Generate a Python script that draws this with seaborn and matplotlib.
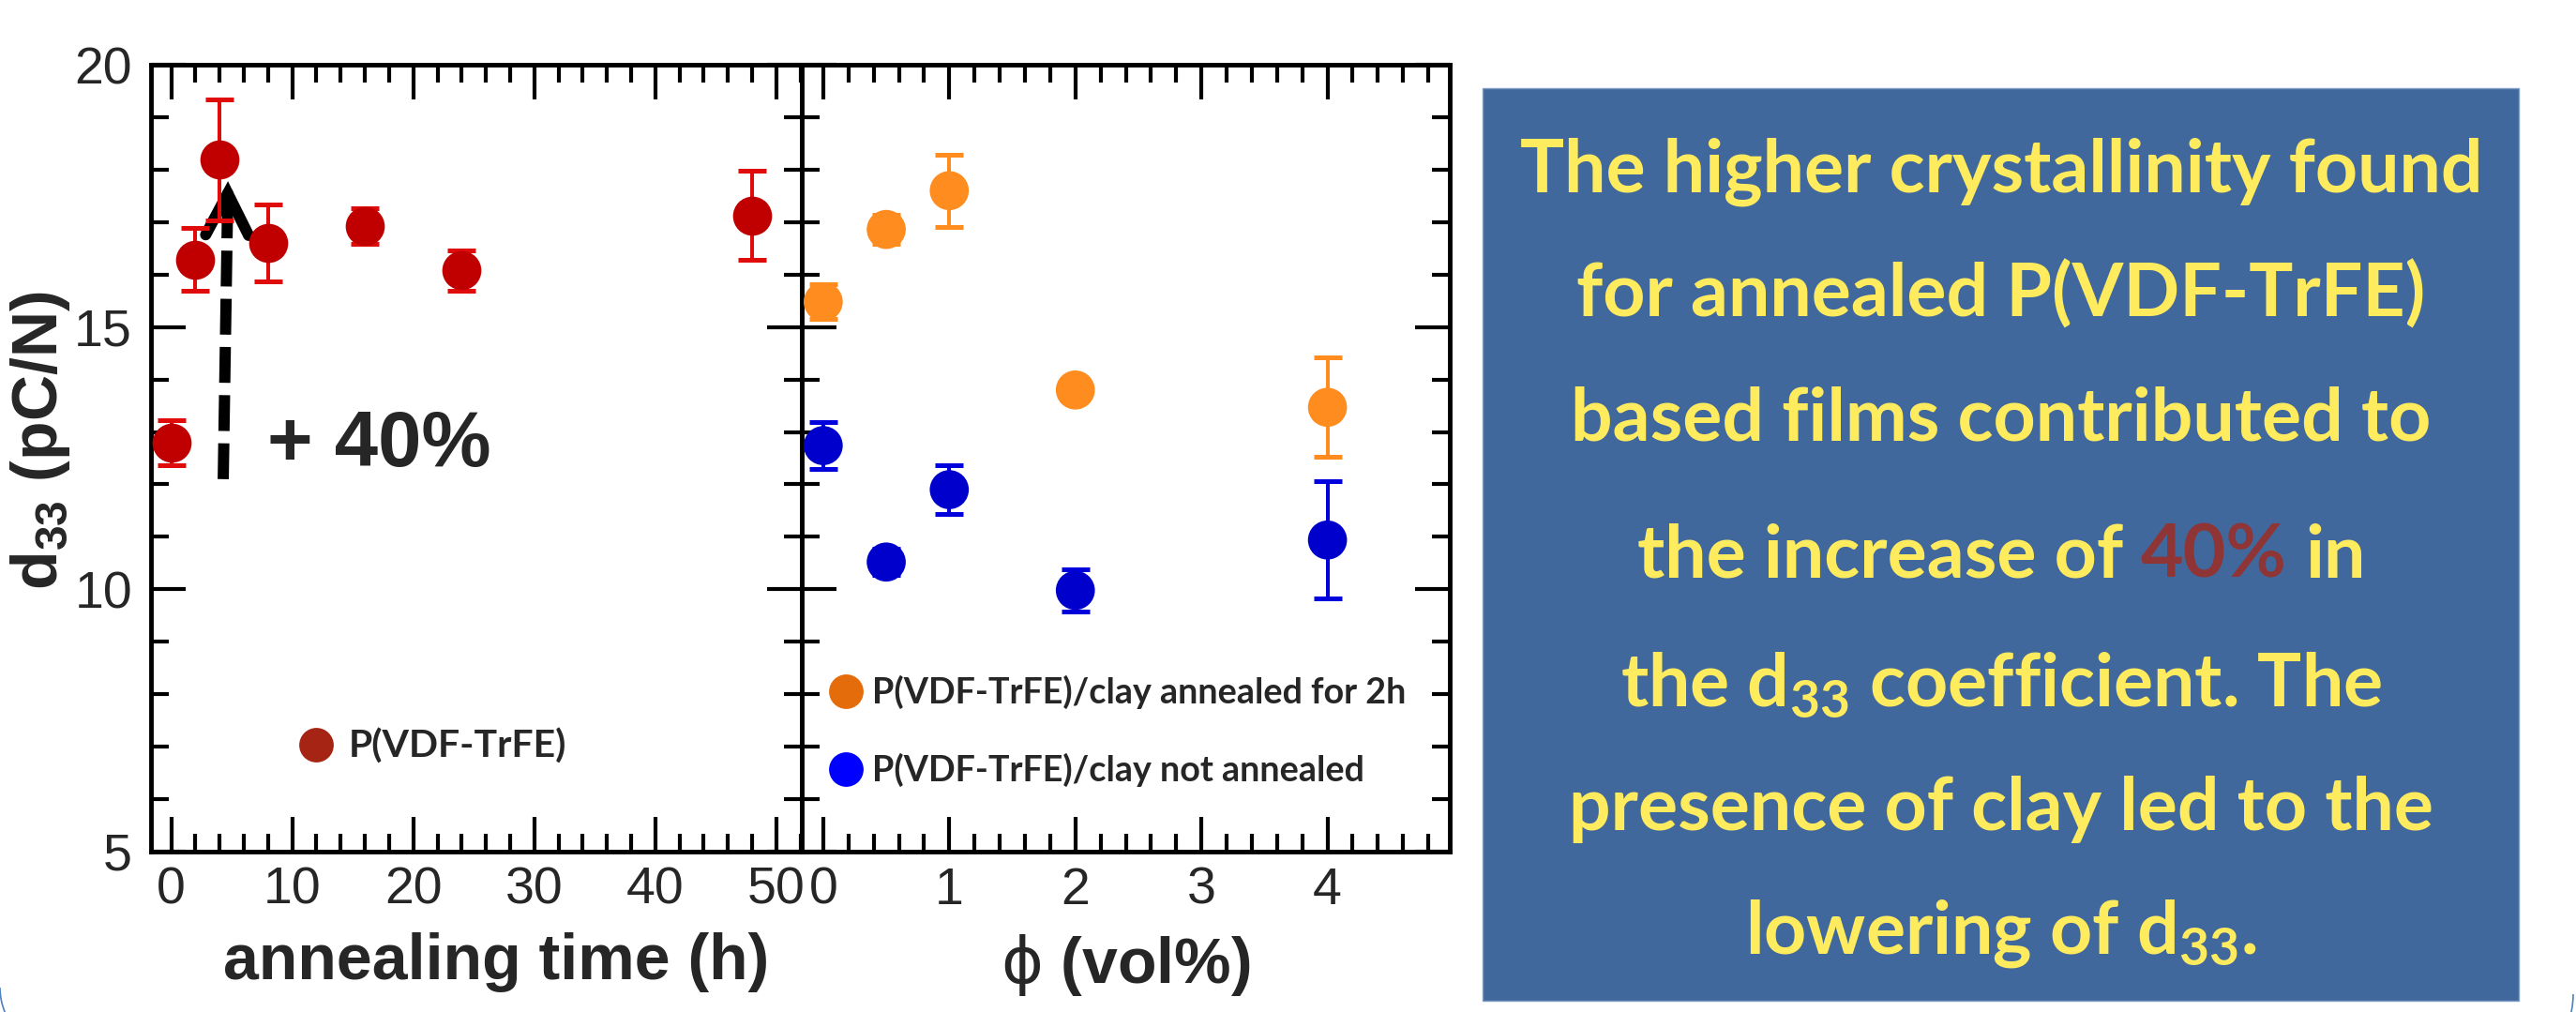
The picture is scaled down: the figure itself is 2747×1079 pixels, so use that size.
import matplotlib
matplotlib.use("Agg")
import pandas as pd
import seaborn as sns
from matplotlib import pyplot as plt
from matplotlib.lines import Line2D
from matplotlib.patches import Rectangle, Arc
from matplotlib.ticker import MultipleLocator
from matplotlib.transforms import IdentityTransform

# values
anneal_time = [0, 2, 4, 8, 16, 24, 48]
anneal_d33 = [12.80, 16.29, 18.19, 16.60, 16.92, 16.08, 17.13]
anneal_err = [0.43, 0.60, 1.15, 0.73, 0.34, 0.38, 0.85]

clay_phi = [0, 0.5, 1, 2, 4]
annealed_d33 = [15.48, 16.86, 17.60, 13.80, 13.47]
annealed_err = [0.33, 0.28, 0.69, 0.10, 0.95]
not_annealed_d33 = [12.74, 10.52, 11.90, 9.98, 10.94]
not_annealed_err = [0.44, 0.25, 0.47, 0.40, 1.12]

series_names = ["P(VDF-TrFE)", "P(VDF-TrFE)/clay annealed for 2h", "P(VDF-TrFE)/clay not annealed"]
point_colors = {series_names[0]: "#C00000", series_names[1]: "#FF8C1E", series_names[2]: "#0000CC"}
bar_colors = {series_names[0]: "#E00C0C", series_names[1]: "#FF8C1E", series_names[2]: "#0000DD"}
legend_colors = {series_names[0]: "#A62414", series_names[1]: "#E46C0A", series_names[2]: "#0000FF"}

box_lines = [
    "The higher crystallinity found",
    "for annealed P(VDF-TrFE)",
    "based films contributed to",
    [("the increase of", "#FFEB5E"), ("40%", "#8F3535"), ("in", "#FFEB5E")],
    r"the d$_{\mathregular{33}}$ coefficient. The",
    "presence of clay led to the",
    r"lowering of d$_{\mathregular{33}}$.",
]

df_anneal = pd.DataFrame({"time": anneal_time, "d33": anneal_d33, "err": anneal_err,
                          "series": series_names[0]})
df_clay = pd.concat([
    pd.DataFrame({"phi": clay_phi, "d33": annealed_d33, "err": annealed_err, "series": series_names[1]}),
    pd.DataFrame({"phi": clay_phi, "d33": not_annealed_d33, "err": not_annealed_err, "series": series_names[2]}),
], ignore_index=True)

sns.set_style("white")
plt.rcParams["font.family"] = ["Liberation Sans", "DejaVu Sans"]
plt.rcParams["axes.edgecolor"] = "black"

W, H = 2747, 1079
fig = plt.figure(figsize=(W / 100, H / 100), dpi=100)
ax1 = fig.add_axes([161 / W, 1 - 908 / H, 694 / W, 839 / H])
ax2 = fig.add_axes([855 / W, 1 - 908 / H, 691 / W, 839 / H])

eb = dict(fmt="none", elinewidth=2.9, capsize=10.5, capthick=3.6, zorder=2)
ax1.errorbar(df_anneal["time"], df_anneal["d33"], yerr=df_anneal["err"], ecolor=bar_colors[series_names[0]], **eb)
for name, grp in df_clay.groupby("series"):
    ax2.errorbar(grp["phi"], grp["d33"], yerr=grp["err"], ecolor=bar_colors[name], **eb)

sns.scatterplot(data=df_anneal, x="time", y="d33", ax=ax1, color=point_colors[series_names[0]],
                s=900, linewidth=0, zorder=3, legend=False)
sns.scatterplot(data=df_clay, x="phi", y="d33", hue="series", palette=point_colors, ax=ax2,
                s=900, linewidth=0, zorder=3, legend=False)

# dashed arrow and label
ax1.plot([4.3, 4.64], [12.1, 17.06], color="black", lw=8.6, dashes=(3.2, 1.1),
         solid_capstyle="butt", dash_capstyle="butt", zorder=1.5)
ax1.annotate("", xy=(4.69, 17.78), xytext=(4.64, 17.0),
             arrowprops=dict(arrowstyle="->,head_length=32,head_width=16.5", mutation_scale=1,
                             lw=8.6, color="black", shrinkA=0, shrinkB=0, capstyle="round",
                             joinstyle="miter"), zorder=1.5)
ax1.text(7.9, 12.35, "+ 40%", fontsize=60, fontweight="bold", ha="left", va="baseline")

ax1.set_xlim(-1.67, 52.1)
ax2.set_xlim(-0.17, 4.97)
for ax in (ax1, ax2):
    ax.set_ylim(5, 20)
    ax.yaxis.set_major_locator(MultipleLocator(5))
    ax.yaxis.set_minor_locator(MultipleLocator(1))
    ax.tick_params(which="both", direction="in", top=True, bottom=True, left=True, right=True,
                   width=3, color="black")
    ax.tick_params(which="major", length=26.6, labelsize=40)
    ax.tick_params(which="minor", length=13.7)
    ax.tick_params(axis="x", pad=11.5)
    ax.tick_params(axis="y", pad=14.4)
    for sp in ax.spines.values():
        sp.set_linewidth(3.5)
        sp.set_color("black")
    ax.set_facecolor("white")
ax1.xaxis.set_major_locator(MultipleLocator(10))
ax1.xaxis.set_minor_locator(MultipleLocator(2))
ax2.xaxis.set_major_locator(MultipleLocator(1))
ax2.xaxis.set_minor_locator(MultipleLocator(0.2))
ax2.tick_params(labelleft=False)
ax2.set_ylabel("")

ax1.set_xlabel("annealing time (h)", fontsize=49, fontweight="bold", labelpad=13)
ax1.xaxis.label.set_x(0.531)
ax2.set_xlabel(r"$\mathrm{\phi}$ (vol%)", fontsize=49, fontweight="bold", labelpad=13)
ax1.set_ylabel(r"d$_{\mathregular{33}}$ (pC/N)", fontsize=49, fontweight="bold")
ax1.yaxis.set_label_coords(-0.121, 0.522)


def handle(name):
    return Line2D([], [], ls="none", marker="o", markersize=26.5, markeredgewidth=0,
                  markerfacecolor=legend_colors[name])


ax1.legend([handle(series_names[0])], [series_names[0]], loc="center left",
           bbox_to_anchor=(0.2236, 0.1335), frameon=False, handlelength=1.0, handletextpad=0.35,
           borderpad=0, borderaxespad=0, prop=dict(family="Lato", weight="bold", size=29.5))
ax2.legend([handle(n) for n in series_names[1:]], series_names[1:], loc="center left",
           bbox_to_anchor=(0.040, 0.153), frameon=False, handlelength=1.0, handletextpad=0.25,
           labelspacing=1.25, borderpad=0, borderaxespad=0,
           prop=dict(family="Lato", weight="bold", size=27.2))

# text box on the right
fig.add_artist(Rectangle((1581 / W, 1 - 1067 / H), (2686 - 1581) / W, (1067 - 94) / H,
                         transform=fig.transFigure, facecolor="#41689C", edgecolor="#7F9CC4", lw=1))
# lower corners of the slide's rounded frame (pixel coordinates)
fig.add_artist(Arc((68, 26), 136, 136, theta1=180, theta2=270, transform=IdentityTransform(),
                   edgecolor="#4F81BD", lw=1.2))
fig.add_artist(Arc((2654, 19), 180, 180, theta1=270, theta2=360, transform=IdentityTransform(),
                   edgecolor="#4F81BD", lw=1.2))

renderer = fig.canvas.get_renderer()
box_font = dict(family="Lato", weight="bold")
probe = fig.text(0, 0, box_lines[0], fontsize=56, **box_font)
box_size = 56 * 1027 / probe.get_window_extent(renderer).width
probe.remove()

baselines = [205, 337.5, 470, 616, 753.5, 885, 1017]
cx = 2134
for line, base in zip(box_lines, baselines):
    y = 1 - base / H
    if isinstance(line, str):
        fig.text(cx / W, y, line, color="#FFEB5E", fontsize=box_size, ha="center", va="baseline", **box_font)
        continue
    a = fig.text(0, 0, "x x", fontsize=box_size, **box_font)
    b = fig.text(0, 0, "xx", fontsize=box_size, **box_font)
    space = a.get_window_extent(renderer).width - b.get_window_extent(renderer).width
    a.remove()
    b.remove()
    parts = [fig.text(0, y, s, color=c, fontsize=box_size, ha="left", va="baseline", **box_font) for s, c in line]
    widths = [p.get_window_extent(renderer).width for p in parts]
    x = cx - (sum(widths) + space * (len(parts) - 1)) / 2
    for p, w in zip(parts, widths):
        p.set_x(x / W)
        x += w + space

fig.savefig("out.png", dpi=100, facecolor="white")
